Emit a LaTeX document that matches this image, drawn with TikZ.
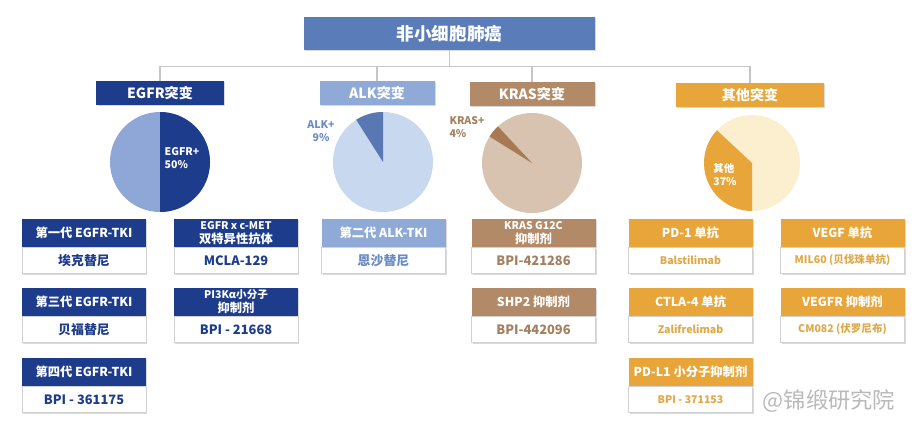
\documentclass[tikz,border=0pt]{standalone}
\usepackage{fontspec}
\setmainfont{Noto Sans CJK SC}
\usetikzlibrary{positioning,shadows}

\definecolor{titleblue}{HTML}{5A7DBA}
\definecolor{egfrnavy}{HTML}{1D3C8C}
\definecolor{egfrlight}{HTML}{8EA7D7}
\definecolor{alkblue}{HTML}{8FAAD7}
\definecolor{alklight}{HTML}{C8D8EE}
\definecolor{alkdark}{HTML}{5877B3}
\definecolor{alktext}{HTML}{6A8BC6}
\definecolor{krasbrown}{HTML}{B38A68}
\definecolor{kraslight}{HTML}{D7C3B0}
\definecolor{krasdark}{HTML}{A67A52}
\definecolor{krastext}{HTML}{A3805F}
\definecolor{otherorange}{HTML}{E8A63A}
\definecolor{otherlight}{HTML}{FCEFCF}
\definecolor{othertext}{HTML}{E0A846}

\tikzset{
  conn/.style={draw=gray!45, line width=0.9pt},
  shadebox/.style={drop shadow={shadow xshift=1.2pt,shadow yshift=-1.2pt,opacity=0.3}},
  rootbox/.style={fill=titleblue, text=white, minimum width=8.73cm, minimum height=0.99cm,
    font=\bfseries\fontsize{15}{18}\selectfont, shadebox},
  catbox/.style={text=white, minimum height=0.72cm, inner sep=0pt,
    font=\bfseries\fontsize{12}{14}\selectfont, shadebox},
  headbox/.style={text=white, minimum width=3.72cm, minimum height=0.84cm, inner sep=0pt,
    align=center, font=\bfseries\fontsize{10.5}{12}\selectfont, shadebox},
  drugbox/.style={fill=white, draw=gray!35, minimum width=3.72cm, minimum height=0.78cm,
    inner sep=0pt, align=center, font=\bfseries\fontsize{11}{13}\selectfont, shadebox},
  pielabel/.style={font=\bfseries\fontsize{9}{11}\selectfont, align=left, inner sep=0pt}
}

\begin{document}
\begin{tikzpicture}[x=0.03cm, y=0.03cm]
  \useasboundingbox (0,0) rectangle (922,-435);

  % tree
  \node[rootbox] (root) at (449.5,-33.5) {非小细胞肺癌};
  \node[catbox, fill=egfrnavy, minimum width=3.81cm] (egfr) at (160,-93) {EGFR突变};
  \node[catbox, fill=alkblue, minimum width=3.45cm] (alk) at (377,-93) {ALK突变};
  \node[catbox, fill=krasbrown, minimum width=3.75cm] (kras) at (532,-94) {KRAS突变};
  \node[catbox, fill=otherorange, minimum width=4.44cm] (other) at (750,-95) {其他突变};

  \foreach \to in {egfr,alk,kras,other}
    \draw[conn] (root.south) -- ++(0,-16) -| (\to.north);

  % pies
  \fill[egfrlight] (160,-162) circle (50);
  \fill[egfrnavy] (160,-162) -- ++(-90:50) arc[start angle=-90, end angle=90, radius=50] -- cycle;
  \node[pielabel, text=white] (egfrpct) at (182,-158) {EGFR+\\50\%};

  \fill[alklight] (383,-162) circle (50);
  \fill[alkdark] (383,-162) -- ++(90:50) arc[start angle=90, end angle=122.4, radius=50] -- cycle;
  \node[pielabel, text=alktext, align=center] (alkpct) at (321,-131) {ALK+\\9\%};

  \fill[kraslight] (532,-163) circle (50);
  \fill[krasdark] (532,-163) -- ++(133:50) arc[start angle=133, end angle=148, radius=50] -- cycle;
  \node[pielabel, text=krastext] (kraspct) at (467,-127) {KRAS+\\ 4\%};

  \fill[otherlight] (752,-163) circle (48);
  \fill[otherorange] (752,-163) -- ++(137:48) arc[start angle=137, end angle=270, radius=48] -- cycle;
  \node[pielabel, text=white] (otherpct) at (725,-175) {其他\\37\%};

  % drug boxes
  \foreach \id/\x/\y/\hc/\tc/\head/\drug in {
      e1/84/219/egfrnavy/egfrnavy/{第一代 EGFR-TKI}/{埃克替尼},
      e3/84/288/egfrnavy/egfrnavy/{第三代 EGFR-TKI}/{贝福替尼},
      e4/84/358/egfrnavy/egfrnavy/{第四代 EGFR-TKI}/{BPI - 361175},
      em/236/219/egfrnavy/egfrnavy/{\small EGFR x c-MET\\双特异性抗体}/{MCLA-129},
      ep/236/288/egfrnavy/egfrnavy/{\small PI3Kα小分子\\抑制剂}/{BPI - 21668},
      a2/383.5/219/alkblue/alktext/{第二代 ALK-TKI}/{恩沙替尼},
      kg/533.5/219/krasbrown/krastext/{\small KRAS G12C\\抑制剂}/{BPI-421286},
      ks/533.5/288/krasbrown/krastext/{SHP2 抑制剂}/{BPI-442096},
      o1/690.5/219/otherorange/othertext/{PD-1 单抗}/{\small Balstilimab},
      o2/690.5/288/otherorange/othertext/{CTLA-4 单抗}/{\small Zalifrelimab},
      o3/690.5/358/otherorange/othertext/{PD-L1 小分子抑制剂}/{\small BPI - 371153},
      o4/842.5/219/otherorange/othertext/{VEGF 单抗}/{\small MIL60 (贝伐珠单抗)},
      o5/842.5/288/otherorange/othertext/{VEGFR 抑制剂}/{\small CM082 (伏罗尼布)}}
  {
    \node[headbox, fill=\hc] (\id-h) at (\x,-\y-14) {\head};
    \node[drugbox, text=\tc, below=0pt of \id-h] (\id-b) {\drug};
  }

  \node[text=gray!55, font=\fontsize{19}{22}\selectfont] (mark) at (829,-401) {@锦缎研究院};
\end{tikzpicture}
\end{document}
